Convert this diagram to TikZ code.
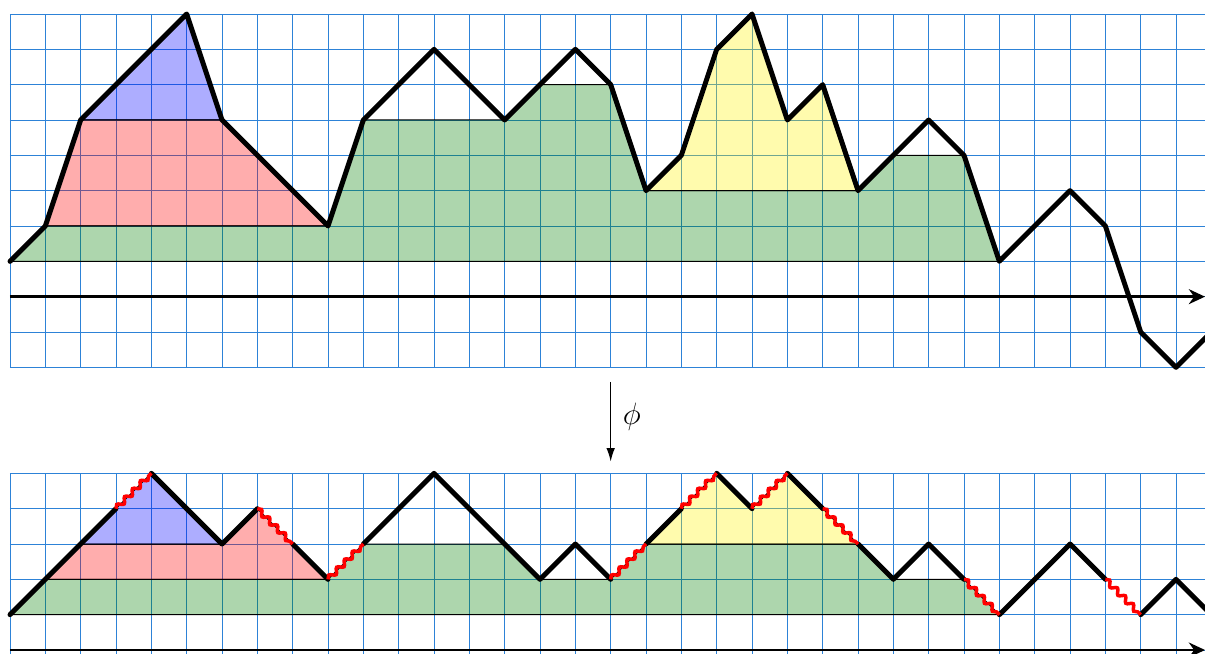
\documentclass[tikz,border=0pt]{standalone}
\usetikzlibrary{arrows.meta,decorations.pathmorphing}
\definecolor{gridblue}{RGB}{45,130,215}
\definecolor{regblue}{RGB}{0,0,255}
\definecolor{reggreen}{RGB}{0,128,0}
\tikzset{
  gridline/.style={gridblue,line width=0.6pt},
  region/.style={draw=black,line width=0.8pt,fill opacity=0.32},
  pathline/.style={line width=4pt,line join=round,line cap=round},
  snakey/.style={red,line width=2.8pt,decorate,decoration={snake,segment length=9pt,amplitude=2pt}},
  axisline/.style={line width=2.4pt,-{Stealth[length=13pt,width=12pt]}},
}
\begin{document}
\begin{tikzpicture}[x=1cm,y=1cm]
\useasboundingbox (-0.283,-10.085) rectangle (33.82,8.396);
\clip (-0.283,-10.085) rectangle (33.82,8.396);
% grids
\foreach \i in {0,...,34} {\draw[gridline] (\i,-2) -- (\i,8);}
\foreach \j in {-2,...,8} {\draw[gridline] (0,\j) -- (34,\j);}
\foreach \i in {0,...,34} {\draw[gridline] (\i,-11) -- (\i,-5);}
\foreach \j in {-11,...,-5} {\draw[gridline] (0,\j) -- (34,\j);}
% top regions
\draw[region,fill=reggreen] (0,1) -- (1,2) -- (9,2) -- (10,5) -- (14,5) -- (15,6) -- (17,6) -- (18,3) -- (24,3) -- (25,4) -- (27,4) -- (28,1) -- cycle;
\draw[region,fill=red] (1,2) -- (2,5) -- (6,5) -- (9,2) -- cycle;
\draw[region,fill=regblue] (2,5) -- (5,8) -- (6,5) -- cycle;
\draw[region,fill=yellow] (18,3) -- (19,4) -- (20,7) -- (21,8) -- (22,5) -- (23,6) -- (24,3) -- cycle;
% top path
\draw[pathline] (0,1) -- (1,2) -- (2,5) -- (5,8) -- (6,5) -- (9,2) -- (10,5) -- (12,7) -- (14,5) -- (16,7) -- (17,6) -- (18,3) -- (19,4) -- (20,7) -- (21,8) -- (22,5) -- (23,6) -- (24,3) -- (25,4) -- (26,5) -- (27,4) -- (28,1) -- (29,2) -- (30,3) -- (31,2) -- (32,-1) -- (33,-2) -- (34,-1);
\coordinate (ta) at (0,0);
\coordinate (tb) at (33.82,0);
\draw[axisline] (ta) -- (tb);
% phi arrow
\coordinate (pa) at (17,-2.41);
\coordinate (pb) at (17,-4.67);
\draw[line width=1.3pt,-{Latex[length=11pt,width=7pt]}] (pa) -- (pb);
\node[font=\fontsize{29}{34}\selectfont] (phi) at (17.6,-3.40) {$\phi$};
% bottom part (level k at y = k-10)
\begin{scope}[shift={(0,-10)}]
\draw[region,fill=reggreen] (0,1) -- (1,2) -- (9,2) -- (10,3) -- (14,3) -- (15,2) -- (17,2) -- (18,3) -- (24,3) -- (25,2) -- (27,2) -- (28,1) -- cycle;
\draw[region,fill=red] (1,2) -- (2,3) -- (6,3) -- (7,4) -- (9,2) -- cycle;
\draw[region,fill=regblue] (2,3) -- (4,5) -- (6,3) -- cycle;
\draw[region,fill=yellow] (18,3) -- (20,5) -- (21,4) -- (22,5) -- (24,3) -- cycle;
\draw[pathline] (0,1) -- (3,4);
\draw[pathline] (4,5) -- (6,3) -- (7,4);
\draw[pathline] (8,3) -- (9,2);
\draw[pathline] (10,3) -- (12,5) -- (15,2) -- (16,3) -- (17,2);
\draw[pathline] (18,3) -- (19,4);
\draw[pathline] (20,5) -- (21,4);
\draw[pathline] (22,5) -- (23,4);
\draw[pathline] (24,3) -- (25,2) -- (26,3) -- (27,2);
\draw[pathline] (28,1) -- (30,3) -- (31,2);
\draw[pathline] (32,1) -- (33,2) -- (34,1);
\draw[snakey] (3,4) -- (4,5);
\draw[snakey] (7,4) -- (8,3);
\draw[snakey] (9,2) -- (10,3);
\draw[snakey] (17,2) -- (18,3);
\draw[snakey] (19,4) -- (20,5);
\draw[snakey] (21,4) -- (22,5);
\draw[snakey] (23,4) -- (24,3);
\draw[snakey] (27,2) -- (28,1);
\draw[snakey] (31,2) -- (32,1);
\coordinate (ba) at (0,0);
\coordinate (bb) at (33.82,0);
\draw[axisline] (ba) -- (bb);
\end{scope}
\end{tikzpicture}
\end{document}
